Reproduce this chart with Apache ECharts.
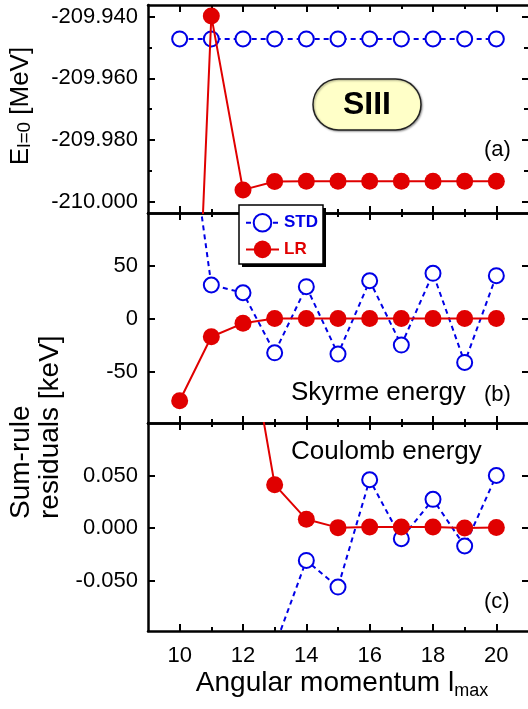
<!DOCTYPE html>
<html><head><meta charset="utf-8">
<script src="https://cdn.jsdelivr.net/npm/echarts@6/dist/echarts.min.js"></script>
<style>html,body{margin:0;padding:0;background:#fff}#c{width:528px;height:709px}</style>
</head><body><div id="c"></div>
<script>
// ---- data ----
const lmax = [10, 11, 12, 13, 14, 15, 16, 17, 18, 19, 20];
// panel (a): E_{l=0} [MeV]
const stdEnergy = [-209.9472, -209.9472, -209.9472, -209.9472, -209.9472, -209.9472, -209.9472, -209.9472, -209.9472, -209.9472, -209.9472];
const lrEnergy  = [-210.183, -209.9398, -209.9962, -209.9935, -209.9934, -209.9934, -209.9934, -209.9934, -209.9934, -209.9934, -209.9934];
// panel (b): Skyrme energy residuals [keV]
const stdSkyrme = [248, 32.1, 24.8, -31.8, 30.5, -33.0, 36.1, -24.5, 43.1, -40.9, 40.9];
const lrSkyrme  = [-77, -16.7, -4.0, 0.5, 0.5, 0.5, 0.5, 0.5, 0.5, 0.5, 0.5];
// panel (c): Coulomb energy residuals [keV]
const stdCoulomb = [null, null, null, -0.113, -0.0308, -0.0562, 0.046, -0.0101, 0.0273, -0.0171, 0.050];
const lrCoulomb  = [null, null, 0.215, 0.0413, 0.0083, 0.0004, 0.001, 0.001, 0.001, 0.000, 0.0005];
// tick values
const xMajorTicks = [10, 12, 14, 16, 18, 20];
const xMinorTicks = [11, 13, 15, 17, 19];
const yTicksA = [-210.000, -209.980, -209.960, -209.940];
const yMinorA = [-209.990, -209.970, -209.950];
const yTicksB = [-50, 0, 50];
const yTicksC = [-0.050, 0.000, 0.050];

// ---- styling / layout ----
const FONT = '"Liberation Sans", Arial, Helvetica, sans-serif';
const BLUE = '#0000e6', RED = '#e00000';
const panels = [
  {top: 5,   height: 208, min: -210.0037, max: -209.9362, major: yTicksA, minor: yMinorA, fmt: v => v.toFixed(3)},
  {top: 213, height: 210, min: -98, max: 100, major: yTicksB, minor: null, fmt: v => String(v)},
  {top: 423, height: 208, min: -0.098, max: 0.1, major: yTicksC, minor: null, fmt: v => v.toFixed(3)}
];
const grid = [], xAxis = [], yAxis = [], xi = [], yi = [];
function tickStyle(len, ticks) {
  return {show: true, inside: true, length: len, customValues: ticks, lineStyle: {color: '#000', width: 2}};
}
panels.forEach((p, g) => {
  grid.push({left: 148, width: 381, top: p.top, height: p.height, show: false});
  const mkX = (pos, ticks, len, line, labels) => ({
    type: 'value', gridIndex: g, position: pos, min: 9, max: 21,
    axisLine: {show: line, onZero: false, lineStyle: {color: '#000', width: 2.5}},
    axisTick: tickStyle(len, ticks),
    axisLabel: labels ? {show: true, customValues: ticks, fontSize: 22, fontFamily: FONT, color: '#000', margin: 14} : {show: false},
    splitLine: {show: false}
  });
  xi.push(xAxis.length);
  xAxis.push(mkX('bottom', xMajorTicks, 7, true, g === 2));
  xAxis.push(mkX('bottom', xMinorTicks, 4, false, false));
  xAxis.push(mkX('top', xMajorTicks, 7, true, false));
  xAxis.push(mkX('top', xMinorTicks, 4, false, false));
  const mkY = (pos, ticks, len, line, labels) => ({
    type: 'value', gridIndex: g, position: pos, min: p.min, max: p.max,
    axisLine: {show: line, onZero: false, lineStyle: {color: '#000', width: 2.5}},
    axisTick: tickStyle(len, ticks),
    axisLabel: labels ? {show: true, customValues: ticks, formatter: p.fmt, fontSize: 22, fontFamily: FONT, color: '#000', margin: 10} : {show: false},
    splitLine: {show: false}
  });
  yi.push(yAxis.length);
  yAxis.push(mkY('left', p.major, 7, true, true));
  yAxis.push(mkY('right', p.major, 6, false, false));
  if (p.minor) {
    yAxis.push(mkY('left', p.minor, 4, false, false));
    yAxis.push(mkY('right', p.minor, 4, false, false));
  }
});

function pts(arr) { return lmax.map((x, i) => [x, arr[i]]).filter(d => d[1] !== null); }
function stdSeries(g, arr) {
  return {name: 'STD', type: 'line', xAxisIndex: xi[g], yAxisIndex: yi[g], data: pts(arr),
    symbol: 'emptyCircle', symbolSize: 15, clip: true, z: 3,
    itemStyle: {color: BLUE, borderColor: BLUE, borderWidth: 2},
    lineStyle: {color: BLUE, width: 2, type: [5, 4]}};
}
function lrSeries(g, arr) {
  return {name: 'LR', type: 'line', xAxisIndex: xi[g], yAxisIndex: yi[g], data: pts(arr),
    symbol: 'circle', symbolSize: 17, clip: true, z: 4,
    itemStyle: {color: RED},
    lineStyle: {color: RED, width: 2}};
}
const series = [
  stdSeries(0, stdEnergy), stdSeries(1, stdSkyrme), stdSeries(2, stdCoulomb),
  lrSeries(0, lrEnergy), lrSeries(1, lrSkyrme), lrSeries(2, lrCoulomb)
];

const txt = (x, y, text, size, extra) => Object.assign({type: 'text', x: x, y: y, z: 50,
  style: Object.assign({text: text, font: size + 'px ' + FONT, fill: '#000', align: 'left', verticalAlign: 'middle'}, extra || {})});

const graphic = [
  // SIII badge
  {type: 'rect', z: 40, shape: {x: 313, y: 79, width: 108, height: 51, r: 25.5},
   style: {fill: '#ffffc8', stroke: '#222', lineWidth: 1.5, shadowBlur: 2, shadowColor: 'rgba(0,0,0,0.35)', shadowOffsetX: 1, shadowOffsetY: 1}},
  txt(367, 105, 'SIII', 32, {align: 'center', font: 'bold 32px ' + FONT}),
  txt(484, 150, '(a)', 22),
  txt(291, 393, 'Skyrme energy', 26),
  txt(484, 395, '(b)', 22),
  txt(291, 452, 'Coulomb energy', 26),
  txt(484, 602, '(c)', 22),
  // legend frame + drop shadow
  {type: 'rect', z: 26, shape: {x: 242, y: 208, width: 84, height: 59}, style: {fill: '#000'}},
  {type: 'rect', z: 27, shape: {x: 239, y: 205, width: 84, height: 59}, style: {fill: '#fff', stroke: '#000', lineWidth: 1.5}},
  // y titles (rotated)
  {type: 'text', x: 21, y: 106, rotation: Math.PI / 2, z: 50,
   style: {text: '{m|E}{s|l=0}{m| [MeV]}', align: 'center', verticalAlign: 'middle',
     rich: {m: {fontSize: 26, fontFamily: FONT, fill: '#000', lineHeight: 26},
            s: {fontSize: 19, fontFamily: FONT, fill: '#000', lineHeight: 19, verticalAlign: 'bottom'}}}},
  {type: 'text', x: 36, y: 519, rotation: Math.PI / 2, z: 50,
   style: {text: 'Sum-rule\nresiduals [keV]', font: '28px ' + FONT, fill: '#000', align: 'left', verticalAlign: 'middle', lineHeight: 29}},
  // x title
  {type: 'text', x: 342, y: 686, z: 50,
   style: {text: '{m|Angular momentum l}{s|max}', align: 'center', verticalAlign: 'middle',
     rich: {m: {fontSize: 28, fontFamily: FONT, fill: '#000', lineHeight: 28, padding: [0, 0, 6, 0]},
            s: {fontSize: 18, fontFamily: FONT, fill: '#000', lineHeight: 18, verticalAlign: 'bottom'}}}}
];

const chart = echarts.init(document.getElementById('c'), null, {renderer: 'canvas'});
chart.setOption({
  animation: false,
  backgroundColor: '#fff',
  grid: grid, xAxis: xAxis, yAxis: yAxis, series: series, graphic: graphic,
  legend: {
    data: [{name: 'STD', textStyle: {color: BLUE}}, {name: 'LR', textStyle: {color: RED}}],
    orient: 'vertical', left: 239, top: 205, z: 30,
    padding: [8, 6, 4, 6], itemWidth: 33, itemHeight: 22, itemGap: 8,
    selectedMode: false,
    textStyle: {fontSize: 17, fontWeight: 'bold', fontFamily: FONT}
  }
});
</script></body></html>
